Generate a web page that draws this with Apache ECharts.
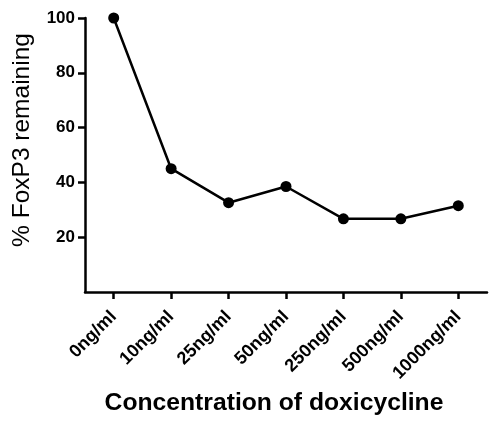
<!DOCTYPE html>
<html>
<head>
<meta charset="utf-8">
<script src="https://cdn.jsdelivr.net/npm/echarts@6/dist/echarts.min.js"></script>
<style>
html,body{margin:0;padding:0;background:#fff;}
#chart{width:493px;height:427px;}
</style>
</head>
<body>
<div id="chart"></div>
<script>
var categories = ['0ng/ml', '10ng/ml', '25ng/ml', '50ng/ml', '250ng/ml', '500ng/ml', '1000ng/ml'];
var foxp3Remaining = [100, 45, 32.6, 38.5, 26.7, 26.7, 31.5];
var yTicks = [20, 40, 60, 80, 100];

var chart = echarts.init(document.getElementById('chart'));
var FONT = '"Liberation Sans", Arial, sans-serif';
chart.setOption({
  animation: false,
  backgroundColor: '#ffffff',
  grid: { left: 85, right: 6, top: 18, bottom: 135, containLabel: false },
  xAxis: {
    type: 'category',
    data: categories,
    boundaryGap: true,
    name: 'Concentration of doxicycline',
    nameLocation: 'middle',
    nameGap: 99,
    nameTextStyle: { fontFamily: FONT, fontWeight: 'bold', fontSize: 24.7, color: '#000', padding: [0, 24, 0, 0] },
    axisLine: { show: true, lineStyle: { color: '#000', width: 2.5 } },
    axisTick: { show: true, alignWithLabel: true, interval: 0, length: 7, lineStyle: { color: '#000', width: 2.5 } },
    axisLabel: { rotate: 45, margin: 22, fontFamily: FONT, fontWeight: 'bold', fontSize: 18, color: '#000', interval: 0 },
    splitLine: { show: false }
  },
  yAxis: {
    type: 'value',
    min: 0,
    max: 100,
    interval: 20,
    name: '% FoxP3 remaining',
    nameLocation: 'middle',
    nameGap: 50,
    nameTextStyle: { fontFamily: FONT, fontWeight: 'normal', fontSize: 24.5, color: '#000', padding: [0, 0, 0, 30] },
    axisLine: { show: true, lineStyle: { color: '#000', width: 2.5 } },
    axisTick: { show: true, length: 7, customValues: yTicks, lineStyle: { color: '#000', width: 2.5 } },
    axisLabel: { margin: 10, customValues: yTicks, fontFamily: FONT, fontWeight: 'bold', fontSize: 17, color: '#000' },
    splitLine: { show: false }
  },
  series: [{
    type: 'line',
    data: foxp3Remaining,
    symbol: 'circle',
    symbolSize: 11,
    itemStyle: { color: '#000' },
    lineStyle: { color: '#000', width: 2.5 }
  }]
});
</script>
</body>
</html>
